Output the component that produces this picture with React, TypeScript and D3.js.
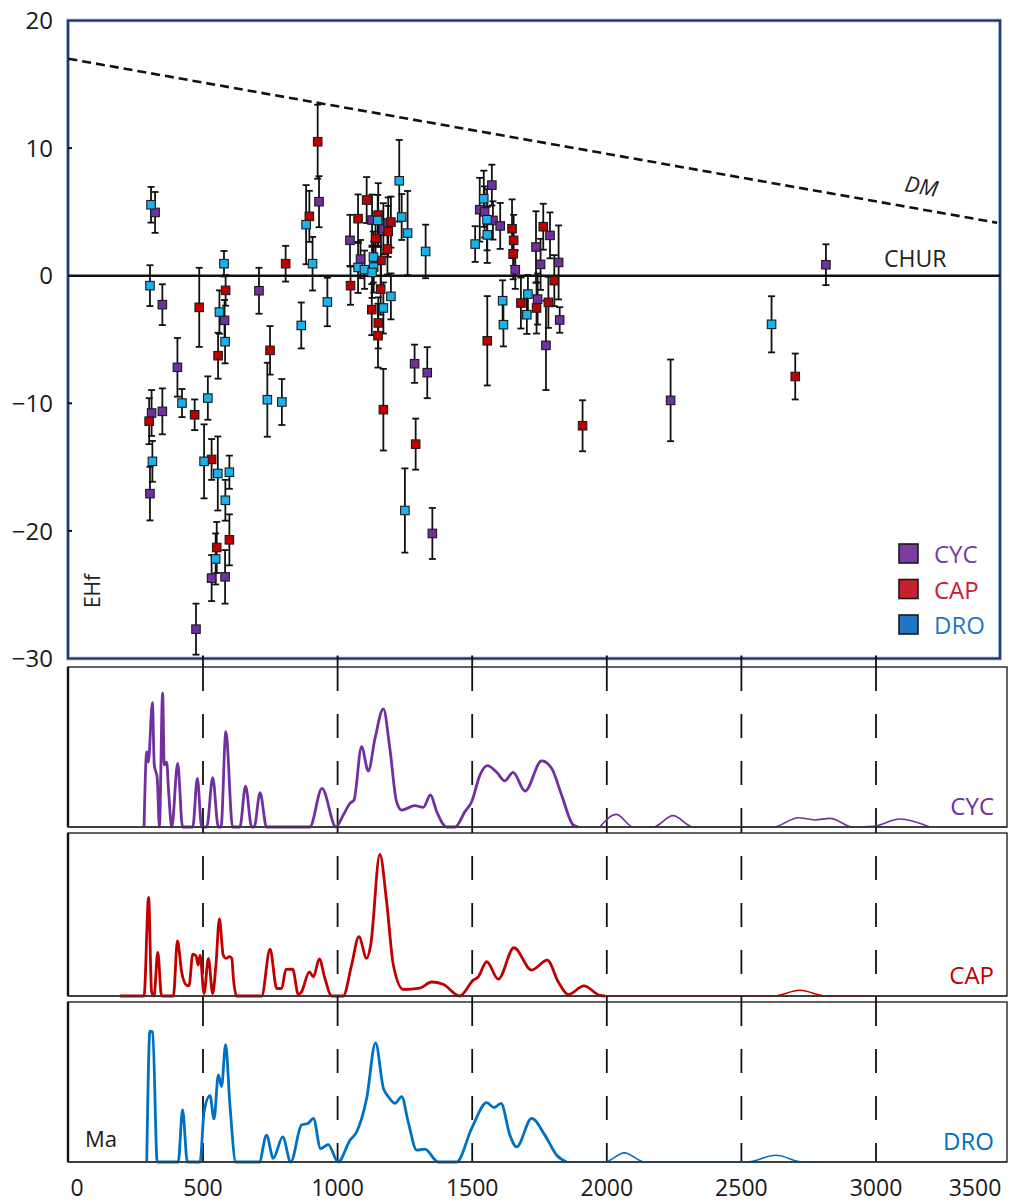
import React from "react";
import * as d3 from "d3";

// ---------- DATA ----------
const xTicks = [0, 500, 1000, 1500, 2000, 2500, 3000, 3500];
const yTicks = [20, 10, 0, -10, -20, -30];
const seriesNames = ["CYC", "CAP", "DRO"];

// Depleted mantle reference line (age Ma, eHf)
const dmAge = [0, 3450];
const dmEhf = [17.0, 4.15];

// CYC scatter
const cycAge = [322, 349, 405, 309, 349, 303, 580, 532, 582, 474, 931, 708, 1286, 1333, 1352, 1046, 1085, 1128, 1170, 1188, 1528, 1546, 1573, 1577, 1604, 1660, 1743, 1737, 1754, 1789, 1821, 1825, 1774, 2237, 2814];
const cycEhf = [4.96, -2.27, -7.18, -10.76, -10.63, -17.08, -3.5, -23.7, -23.6, -27.7, 5.8, -1.18, -6.9, -7.6, -20.2, 2.77, 1.3, 4.36, 3.68, 4.13, 5.17, 5.0, 7.1, 4.33, 3.9, 0.47, -1.83, 2.25, 0.89, 3.16, 1.04, -3.47, -5.46, -9.77, 0.86];
const cycErr = [1.6, 1.6, 2.3, 1.8, 1.8, 2.1, 1.6, 1.8, 2.1, 2.0, 2.0, 1.8, 1.5, 2.0, 2.0, 2.0, 1.5, 2.0, 2.0, 2.0, 2.5, 2.0, 1.6, 1.5, 1.8, 1.5, 2.0, 2.8, 2.0, 1.8, 2.9, 1.0, 3.5, 3.2, 1.6];

// CAP scatter
const capAge = [486, 584, 556, 469, 300, 532, 598, 551, 926, 895, 807, 749, 1150, 1151, 1170, 1290, 1556, 1048, 1076, 1108, 1151, 1141, 1161, 1198, 1188, 1185, 1160, 1127, 1648, 1654, 1652, 1681, 1739, 1764, 1783, 1805, 1910, 2700];
const capEhf = [-2.48, -1.15, -6.27, -10.9, -11.4, -14.4, -20.7, -21.3, 10.5, 4.65, 0.94, -5.85, -4.7, -3.7, -10.5, -13.2, -5.1, -0.78, 4.47, 5.93, 4.75, 2.92, 1.2, 4.2, 3.47, 2.09, -1.05, -2.66, 3.68, 2.77, 1.72, -2.14, -2.53, 3.84, -2.09, -0.39, -11.76, -7.9];
const capErr = [3.1, 1.2, 1.8, 1.2, 1.8, 1.6, 2.0, 2.0, 2.9, 2.0, 1.4, 1.9, 2.5, 2.0, 3.2, 2.0, 3.5, 1.5, 1.9, 1.8, 2.5, 2.0, 2.0, 2.0, 2.0, 2.0, 2.0, 2.0, 2.3, 2.0, 2.0, 2.0, 2.0, 1.8, 2.0, 2.0, 2.0, 1.8];

// DRO scatter
const droAge = [307, 303, 578, 561, 582, 422, 518, 312, 504, 555, 598, 583, 547, 883, 907, 865, 962, 739, 793, 1250, 1076, 1100, 1149, 1133, 1134, 1128, 1229, 1238, 1260, 1327, 1198, 1170, 1511, 1543, 1555, 1556, 1613, 1616, 1707, 1703, 2612];
const droEhf = [5.56, -0.78, 0.94, -2.85, -5.17, -9.98, -9.59, -14.55, -14.55, -15.5, -15.4, -17.6, -22.2, 4.0, 0.94, -3.9, -2.06, -9.72, -9.9, -18.4, 0.65, 0.47, 4.33, 1.46, 0.68, 0.26, 7.44, 4.6, 3.34, 1.9, -1.62, -2.53, 2.48, 6.03, 4.39, 3.2, -1.96, -3.84, -1.44, -3.06, -3.81];
const droErr = [1.4, 1.6, 1.0, 1.7, 1.7, 1.1, 1.7, 1.6, 2.9, 2.9, 1.3, 1.6, 2.0, 3.1, 2.1, 1.8, 1.9, 2.9, 1.8, 3.3, 2.0, 1.5, 2.0, 2.0, 2.0, 2.0, 3.2, 1.8, 3.3, 2.1, 1.8, 2.0, 1.4, 2.2, 2.4, 2.2, 1.6, 1.7, 1.5, 1.5, 2.2];

// KDE curves (relative density, 0-100 of panel height)
const cycKdeAge = [281, 291, 297, 312, 319, 330, 338, 350, 356, 365, 372, 384, 406, 424, 462, 479, 495, 514, 536, 557, 567, 585, 610, 637, 658, 681, 690, 712, 736, 897, 942, 994, 1021, 1046, 1061, 1089, 1114, 1139, 1170, 1194, 1219, 1238, 1287, 1318, 1345, 1368, 1405, 1436, 1473, 1498, 1529, 1556, 1591, 1621, 1652, 1696, 1758, 1795, 1832, 1875, 1894, 1974, 2036, 2098, 2172, 2246, 2321, 2618, 2711, 2773, 2829, 2915, 2990, 3088, 3200];
const cycKdeVal = [0, 47.1, 40.6, 77.7, 38.8, 30.6, 0, 83.6, 38.8, 40.6, 23, 0, 39.8, 0, 0, 30.4, 0, 0, 30.8, 0, 0, 59.6, 0, 0, 25.6, 0, 0, 21.4, 0, 0, 24.2, 0, 7.5, 14.8, 16.9, 50.2, 35, 55.4, 73.8, 49.2, 15.8, 10.6, 13.3, 12.3, 20, 9.6, 0, 0, 9.6, 15.8, 32.5, 38.3, 34.2, 28.8, 34.2, 22.5, 41.3, 36.7, 20, 1.3, 0, 0, 7.9, 0, 0, 7.1, 0, 0, 5.8, 4.4, 5.4, 0, 0.4, 5, 0];

const capKdeAge = [192, 281, 298, 309, 318, 332, 346, 390, 405, 421, 439, 448, 462, 474, 482, 489, 504, 520, 536, 548, 561, 575, 585, 598, 607, 613, 625, 718, 749, 774, 792, 808, 833, 854, 866, 895, 910, 932, 953, 978, 1021, 1052, 1079, 1108, 1123, 1157, 1182, 1207, 1244, 1306, 1349, 1392, 1454, 1504, 1522, 1554, 1597, 1655, 1721, 1779, 1820, 1857, 1915, 1974, 1993, 2618, 2717, 2816, 2990];
const capKdeVal = [0, 0, 60.5, 2.5, 0, 26.8, 0, 0, 33.8, 14.4, 6.6, 6.2, 25.6, 24.7, 19, 25.1, 1.5, 23.1, 1.5, 19, 47.3, 25.1, 23.1, 24.1, 23.1, 10.7, 0, 0, 28.8, 4.6, 4.6, 16.3, 16.5, 0.9, 2.5, 14.8, 11.7, 22.7, 10.7, 0, 0, 19, 36.4, 23.1, 31.3, 86.9, 58, 19, 4, 4.9, 8.6, 7.2, 0, 9.7, 11.7, 21, 10.3, 29.6, 15.9, 22, 8.6, 0.9, 6.2, 0.4, 0, 0, 3.5, 0, 0];

const droKdeAge = [291, 303, 313, 330, 408, 424, 442, 489, 504, 526, 541, 557, 569, 584, 600, 622, 709, 736, 761, 796, 826, 866, 891, 910, 937, 965, 1002, 1046, 1071, 1108, 1141, 1170, 1188, 1213, 1238, 1262, 1294, 1324, 1374, 1442, 1498, 1554, 1581, 1607, 1640, 1665, 1721, 1770, 1814, 1851, 1993, 2065, 2141, 2519, 2628, 2729, 2800];
const droKdeVal = [0, 81.8, 81.4, 0, 0, 32.5, 0, 0, 31.4, 41.5, 26.9, 54.5, 47.2, 73.4, 35.7, 0, 0, 16.8, 2.3, 15.7, 0, 23.1, 24.2, 27.3, 8.4, 10.9, 0, 13.6, 18.9, 39.9, 74.5, 46.2, 40.9, 36.7, 40.9, 25.2, 7.4, 8, 0, 0, 21, 37.1, 34, 36.7, 16.8, 9.4, 27.3, 16.8, 4.2, 0, 0, 5.7, 0, 0, 4.2, 0, 0];

// ---------- STYLE ----------
const FONT = "'Open Sans', 'Noto Sans', sans-serif";
const markerColors = { CYC: "#7030a0", CAP: "#c00000", DRO: "#19b2ea" };
const legendColors = { CYC: "#7a3c9e", CAP: "#c8202f", DRO: "#1f77c4" };
const kdeColors = { CYC: "#7030a0", CAP: "#c00000", DRO: "#0070c0" };

const W = 1011;
const H = 1202;

export default function App() {
  const x = d3.scaleLinear().domain([0, 3500]).range([68.4, 1010.6]);
  const top = { x0: 68, x1: 1000, y0: 20.5, y1: 658.5 };
  const y = d3.scaleLinear().domain([-30, 20]).range([top.y1, top.y0]);

  const panels = [
    { name: "CYC", y0: 667, y1: 827, ages: cycKdeAge, vals: cycKdeVal, cut: 1900, dashOffset: 0 },
    { name: "CAP", y0: 833, y1: 996, ages: capKdeAge, vals: capKdeVal, cut: 1993, dashOffset: 24 },
    { name: "DRO", y0: 1002, y1: 1162, ages: droKdeAge, vals: droKdeVal, cut: 1851, dashOffset: 0 },
  ];
  const px1 = 1007;

  const series = [
    { name: "CYC", age: cycAge, ehf: cycEhf, err: cycErr },
    { name: "CAP", age: capAge, ehf: capEhf, err: capErr },
    { name: "DRO", age: droAge, ehf: droEhf, err: droErr },
  ];

  const dmLine = d3.line<number>().x((d, i) => x(dmAge[i])).y((d, i) => y(dmEhf[i]));
  const dmPath = dmLine(dmAge) || "";
  const dmAngle = (Math.atan2(y(dmEhf[1]) - y(dmEhf[0]), x(dmAge[1]) - x(dmAge[0])) * 180) / Math.PI;

  const sq = 8.5;

  return (
    <svg width={W} height={H} style={{ position: "absolute", left: 0, top: 0, background: "#fff" }} fontFamily={FONT}>
      <rect x={0} y={0} width={W} height={H} fill="#fff" />

      {/* ---------- TOP PANEL ---------- */}
      <rect x={top.x0} y={top.y0} width={top.x1 - top.x0} height={top.y1 - top.y0} fill="#fff" stroke="#7d9fd4" strokeWidth={3.5} />
      <rect x={top.x0} y={top.y0} width={top.x1 - top.x0} height={top.y1 - top.y0} fill="none" stroke="#1c2f5a" strokeWidth={1.8} />
      {yTicks.map((t) => (
        <g key={"yt" + t}>
          <text x={53} y={y(t)} dy="0.36em" textAnchor="end" fontSize={24} fill="#1a1a1a">
            {t < 0 ? "\u2212" + Math.abs(t) : String(t)}
          </text>
          {t !== 20 && t !== -30 && t !== 0 && <line x1={top.x0} x2={top.x0 + 4} y1={y(t)} y2={y(t)} stroke="#111" strokeWidth={2} />}
        </g>
      ))}
      {xTicks.filter((t) => t > 0 && t < 3500).map((t) => (
        <line key={"bt" + t} x1={x(t)} x2={x(t)} y1={top.y1 - 3} y2={top.y1} stroke="#111" strokeWidth={2} />
      ))}
      {/* CHUR */}
      <line x1={top.x0} x2={top.x1} y1={y(0)} y2={y(0)} stroke="#111" strokeWidth={2.5} />
      <text x={884} y={y(0) - 9} fontSize={23} fill="#222">CHUR</text>
      {/* DM */}
      <path d={dmPath} fill="none" stroke="#111" strokeWidth={2.6} strokeDasharray="9,5" />
      <text
        x={920}
        y={194}
        fontSize={22}
        fontStyle="italic"
        fill="#222"
        textAnchor="middle"
        transform={`rotate(${dmAngle.toFixed(2)},920,194)`}
      >
        DM
      </text>
      <text x={0} y={0} fontSize={21} fill="#222" textAnchor="middle" transform="translate(100,591) rotate(-90)">
        EHf
      </text>

      {/* error bars */}
      {series.map((s) =>
        s.age.map((a, i) => {
          const cx = x(a);
          const yt = y(s.ehf[i] + s.err[i]);
          const yb = y(s.ehf[i] - s.err[i]);
          return (
            <g key={s.name + "e" + i} stroke="#111" strokeWidth={1.8}>
              <line x1={cx} x2={cx} y1={yt} y2={yb} />
              <line x1={cx - 3.5} x2={cx + 3.5} y1={yt} y2={yt} />
              <line x1={cx - 3.5} x2={cx + 3.5} y1={yb} y2={yb} />
            </g>
          );
        })
      )}
      {/* markers */}
      {series.map((s) =>
        s.age.map((a, i) => (
          <rect
            key={s.name + "m" + i}
            x={x(a) - sq / 2}
            y={y(s.ehf[i]) - sq / 2}
            width={sq}
            height={sq}
            fill={markerColors[s.name]}
            stroke="#1a1a1a"
            strokeWidth={1.1}
          />
        ))
      )}

      {/* legend */}
      {seriesNames.map((n, i) => (
        <g key={"lg" + n}>
          <rect x={899} y={544 + i * 35.5} width={19} height={19} fill={legendColors[n]} stroke="#1a1a1a" strokeWidth={1.6} />
          <text x={934} y={563 + i * 35.5} fontSize={24} fill={legendColors[n]}>
            {n}
          </text>
        </g>
      ))}

      {/* ---------- KDE PANELS ---------- */}
      {panels.map((p, pi) => {
        const ys = d3.scaleLinear().domain([0, 100]).range([p.y1, p.y0]);
        const pts = p.ages.map((a, i) => [a, p.vals[i]] as [number, number]);
        const thick = pts.filter((d) => d[0] <= p.cut);
        const thin = pts.filter((d) => d[0] >= p.cut);
        const line = d3
          .line<[number, number]>()
          .x((d) => x(d[0]))
          .y((d) => ys(d[1]))
          .curve(d3.curveMonotoneX);
        const gapTop = pi === 0 ? top.y1 : panels[pi - 1].y1;
        return (
          <g key={"p" + p.name}>
            <rect x={top.x0} y={p.y0} width={px1 - top.x0} height={p.y1 - p.y0} fill="#fff" stroke="#222" strokeWidth={1.4} />
            {xTicks.filter((t) => t > 0 && t < 3500).map((t) => (
              <g key={"d" + t}>
                <line x1={x(t)} x2={x(t)} y1={gapTop} y2={p.y0} stroke="#111" strokeWidth={1.8} />
                <line
                  x1={x(t)}
                  x2={x(t)}
                  y1={p.y0}
                  y2={p.y1}
                  stroke="#111"
                  strokeWidth={1.8}
                  strokeDasharray="24,23"
                  strokeDashoffset={p.dashOffset}
                />
              </g>
            ))}
            <path d={line(thin) || ""} fill="none" stroke={kdeColors[p.name]} strokeWidth={1.6} />
            <path d={line(thick) || ""} fill="none" stroke={kdeColors[p.name]} strokeWidth={2.8} strokeLinejoin="round" />
            <line x1={top.x0} x2={top.x0} y1={p.y0} y2={p.y1} stroke="#111" strokeWidth={2.4} />
            <line x1={top.x0} x2={px1} y1={p.y1} y2={p.y1} stroke="#333" strokeWidth={1.6} />
            <text x={994} y={p.y1 - 12} textAnchor="end" fontSize={24} fill={kdeColors[p.name]}>
              {p.name}
            </text>
          </g>
        );
      })}
      <text x={85} y={1147} fontSize={22} fill="#1a1a1a">Ma</text>

      {/* bottom axis labels */}
      {xTicks.map((t) => (
        <text key={"xl" + t} x={Math.min(Math.max(x(t), 77), 975)} y={1196} textAnchor="middle" fontSize={23} fill="#1a1a1a">
          {t}
        </text>
      ))}
    </svg>
  );
}
